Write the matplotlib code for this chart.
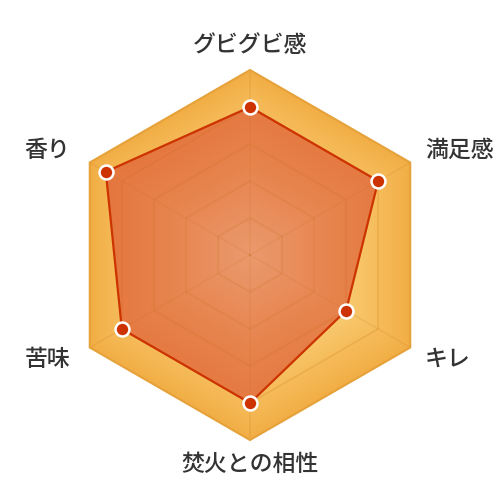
import matplotlib.pyplot as plt
import numpy as np
from matplotlib.patches import Polygon
from matplotlib.colors import LinearSegmentedColormap

plt.rcParams['font.family'] = ['Noto Sans CJK JP', 'DejaVu Sans']

#%% Data
labels = ['グビグビ感', '満足感', 'キレ', '焚火との相性', '苦味', '香り']
values = [4, 4, 3, 4, 4, 4.5]
max_val = 5

#%% Geometry
n = len(labels)
ang = np.pi / 2 - np.arange(n) * 2 * np.pi / n
ux, uy = np.cos(ang), np.sin(ang)
px_unit = 37.0  # pixels per level
cx_px, cy_px = 250, 255

fig = plt.figure(figsize=(5, 5), dpi=100)
ax = fig.add_axes([0, 0, 1, 1])
ax.set_xlim(-cx_px / px_unit, (500 - cx_px) / px_unit)
ax.set_ylim(-(500 - cy_px) / px_unit, cy_px / px_unit)
ax.set_aspect('equal')
ax.axis('off')

# hexagonal "radial" distance for gradients
gx, gy = np.meshgrid(np.linspace(-max_val, max_val, 400), np.linspace(-max_val, max_val, 400))
nang = np.arange(6) * np.pi / 3
hexd = np.max([gx * np.cos(a) + gy * np.sin(a) for a in nang], axis=0) / (max_val * np.cos(np.pi / 6))
hexd = np.clip(hexd, 0, 1)
ext = [-max_val, max_val, -max_val, max_val]

# background hexagon
outer = np.column_stack([ux * max_val, uy * max_val])
bg_cmap = LinearSegmentedColormap.from_list('bg', ['#fde9b4', '#fbd27c', '#f2ae45'])
bg_patch = Polygon(outer, closed=True, facecolor='none', edgecolor='none')
ax.add_patch(bg_patch)
im = ax.imshow(hexd, cmap=bg_cmap, extent=ext, origin='lower', vmin=0, vmax=1, zorder=1)
im.set_clip_path(bg_patch)

# data area
pts = np.column_stack([ux * values, uy * values])
dat_cmap = LinearSegmentedColormap.from_list('dat', ['#eb9a6e', '#e7844e', '#e4733a'])
dat_patch = Polygon(pts, closed=True, facecolor='none', edgecolor='none')
ax.add_patch(dat_patch)
im2 = ax.imshow(hexd, cmap=dat_cmap, extent=ext, origin='lower', vmin=0, vmax=1, zorder=2)
im2.set_clip_path(dat_patch)

# grid
for lv in range(1, max_val):
    ax.add_patch(Polygon(np.column_stack([ux * lv, uy * lv]), closed=True, fill=False,
                         edgecolor='#c8701e', alpha=0.2, lw=1.2, zorder=3))
for i in range(n):
    ax.plot([0, ux[i] * max_val], [0, uy[i] * max_val], color='#c8701e', alpha=0.15, lw=1.2, zorder=3)
ax.add_patch(Polygon(outer, closed=True, fill=False, edgecolor='#e6a23a', lw=1.5, zorder=4))

# data line and markers
ax.add_patch(Polygon(pts, closed=True, fill=False, edgecolor='#cc3300', lw=1.6, zorder=5))
ax.plot(pts[:, 0], pts[:, 1], 'o', ms=10, mfc='#cc3300', mec='white', mew=1.8, zorder=6)

# labels
lab_r = 209 / px_unit
for i, lab in enumerate(labels):
    y = uy[i] * lab_r
    if abs(ux[i]) < 1e-6:
        x, ha = 0, 'center'
    elif ux[i] > 0:
        x, ha = 175 / px_unit, 'left'
    else:
        x, ha = -180 / px_unit, 'right'
    ax.text(x, y, lab, ha=ha, va='center', fontsize=16.5, color='#333333', fontweight='medium')

plt.savefig('out.png')
